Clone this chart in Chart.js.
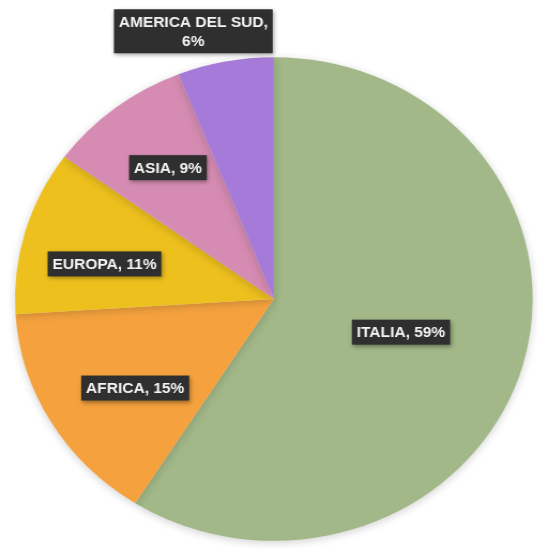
<!DOCTYPE html>
<html>
<head>
<meta charset="utf-8">
<script src="https://cdn.jsdelivr.net/npm/chart.js@4"></script>
<style>
  html, body { margin: 0; padding: 0; background: #ffffff; overflow: hidden; }
  #wrap { position: absolute; left: 0; top: 0; width: 503.7px; height: 548px;
          transform: scaleX(1.0682); transform-origin: 0 0; }
</style>
</head>
<body>
<div id="wrap"><canvas id="c"></canvas></div>
<script>
// ---- data ----
const categories = ["ITALIA", "AFRICA", "EUROPA", "ASIA", "AMERICA DEL SUD"];
const shares = [59, 15, 11, 9, 6];
const labelLines = [
  ["ITALIA, 59%"],
  ["AFRICA, 15%"],
  ["EUROPA, 11%"],
  ["ASIA, 9%"],
  ["AMERICA DEL SUD,", "6%"]
];

// ---- styling / placement (kept separate from data) ----
const sliceColors = ["#a2b888", "#f5a23e", "#edc01e", "#d68cb2", "#a67ad8"];
const labelRadius = [0.51, 0.65, 0.67, 0.68, 1.15];
const labelAngleShift = [-0.6, -3.9, -3.7, 0.8, -4.9]; // degrees

const labelPlugin = {
  id: 'boxLabels',
  afterDatasetsDraw(chart) {
    const ctx = chart.ctx;
    const meta = chart.getDatasetMeta(0);
    ctx.save();
    ctx.font = "bold 14.5px 'Liberation Sans', Arial, sans-serif";
    ctx.textAlign = 'center';
    ctx.textBaseline = 'middle';
    const lineH = 19;
    meta.data.forEach((arc, i) => {
      const p = arc.getProps(['x', 'y', 'startAngle', 'endAngle', 'outerRadius'], true);
      const mid = (p.startAngle + p.endAngle) / 2 + labelAngleShift[i] * Math.PI / 180;
      const r = p.outerRadius * labelRadius[i];
      const cx = p.x + Math.cos(mid) * r;
      const cy = p.y + Math.sin(mid) * r;
      const lines = labelLines[i];
      let w = 0;
      lines.forEach(l => { w = Math.max(w, ctx.measureText(l).width); });
      const padX = 4.5, padY = 5;
      const bw = w + padX * 2;
      const bh = lines.length * lineH + padY * 2 - 4;
      ctx.save();
      ctx.shadowColor = 'rgba(0,0,0,0.35)';
      ctx.shadowBlur = 4;
      ctx.shadowOffsetX = 1;
      ctx.shadowOffsetY = 2;
      ctx.fillStyle = '#2e2f2e';
      ctx.fillRect(cx - bw / 2, cy - bh / 2, bw, bh);
      ctx.restore();
      ctx.fillStyle = '#f4f4f4';
      const y0 = cy - (lines.length - 1) * lineH / 2;
      lines.forEach((l, k) => ctx.fillText(l, cx, y0 + k * lineH + 1));
    });
    ctx.restore();
  }
};

const shadowPlugin = {
  id: 'pieShadow',
  beforeDatasetsDraw(chart) {
    const ctx = chart.ctx;
    ctx.save();
    ctx.shadowColor = 'rgba(0,0,0,0.18)';
    ctx.shadowBlur = 8;
    ctx.shadowOffsetY = 2;
  },
  afterDatasetsDraw(chart) {
    chart.ctx.restore();
  }
};

new Chart(document.getElementById('c'), {
  type: 'pie',
  data: {
    labels: categories,
    datasets: [{
      data: shares,
      backgroundColor: sliceColors,
      borderWidth: 0,
      hoverOffset: 0
    }]
  },
  options: {
    responsive: true,
    maintainAspectRatio: false,
    animation: false,
    events: [],
    rotation: 0,
    layout: { padding: { left: 14, right: 6, top: 57, bottom: 7 } },
    plugins: {
      legend: { display: false },
      tooltip: { enabled: false }
    }
  },
  plugins: [shadowPlugin, labelPlugin]
});
</script>
</body>
</html>
